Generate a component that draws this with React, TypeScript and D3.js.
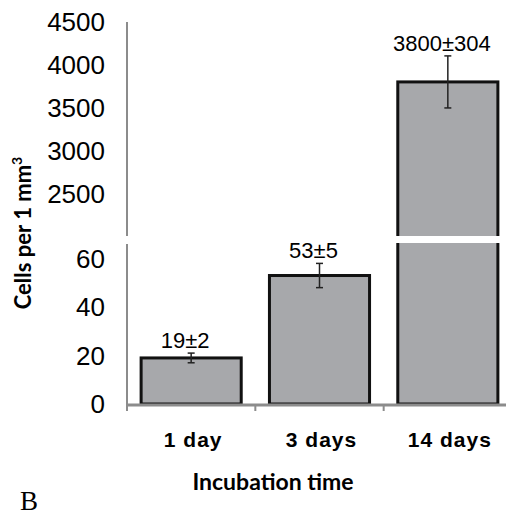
import React from 'react'
import * as d3 from 'd3'

const categories = ['1 day', '3 days', '14 days']
const means = [19, 53, 3800]
const errors = [2, 5, 304]
const valueLabels = ['19±2', '53±5', '3800±304']
const lowerTicks = [0, 20, 40, 60]
const upperTicks = [2500, 3000, 3500, 4000, 4500]

const W = 506
const H = 516
const axisX = 127
const baseY = 404
const breakLo = 236
const breakHi = 244

const App = () => {
  const x = d3.scaleBand().domain(categories).range([axisX, 512]).paddingInner(0.22).paddingOuter(0.11)
  const yLow = d3.scaleLinear().domain([0, 66]).range([baseY, breakHi])
  const yHigh = d3.scaleLinear().domain([2000, 4500]).range([breakLo, 22])
  const inLow = (v: number) => v <= 66
  const yOf = (v: number) => (inLow(v) ? yLow(v) : yHigh(v))
  const axisColor = '#8c8c8c'
  const bandEdges = [axisX, ...categories.slice(1).map(c => (x(c) as number) - x.step() * x.paddingInner() / 2)]

  return (
    <svg width={W} height={H} style={{ position: 'absolute', left: 0, top: 0 }}>
      <rect width={W} height={H} fill="#fff" />
      {/* y axis, two pieces */}
      <line x1={axisX} x2={axisX} y1={yHigh(4500)} y2={breakLo} stroke={axisColor} strokeWidth={2} />
      <line x1={axisX} x2={axisX} y1={breakHi} y2={baseY + 6} stroke={axisColor} strokeWidth={2} />
      {upperTicks.map(t => (
        <text key={t} x={105} y={yHigh(t)} dy="0.36em" textAnchor="end"
          fontFamily="Liberation Sans, Arial, sans-serif" fontSize={26}>{t}</text>
      ))}
      {lowerTicks.map(t => (
        <text key={t} x={105} y={yLow(t)} dy="0.36em" textAnchor="end"
          fontFamily="Liberation Sans, Arial, sans-serif" fontSize={26}>{t}</text>
      ))}
      {/* bars */}
      {categories.map((c, i) => {
        const bx = x(c) as number
        const top = yOf(means[i])
        const cx = bx + x.bandwidth() / 2
        return (
          <g key={c}>
            <rect x={bx} y={top} width={x.bandwidth()} height={baseY - top}
              fill="#a7a8ab" stroke="#111" strokeWidth={3} />
            {!inLow(means[i]) && (
              <rect x={bx - 3} y={breakLo} width={x.bandwidth() + 6} height={breakHi - breakLo - 1} fill="#fff" />
            )}
            <line x1={cx} x2={cx} y1={yOf(means[i] + errors[i])} y2={yOf(means[i] - errors[i])} stroke="#222" strokeWidth={1.5} />
            <line x1={cx - 3.5} x2={cx + 3.5} y1={yOf(means[i] + errors[i])} y2={yOf(means[i] + errors[i])} stroke="#222" strokeWidth={1.5} />
            <line x1={cx - 3.5} x2={cx + 3.5} y1={yOf(means[i] - errors[i])} y2={yOf(means[i] - errors[i])} stroke="#222" strokeWidth={1.5} />
            <text x={cx - 6} y={yOf(means[i] + errors[i]) - 5} textAnchor="middle"
              fontFamily="Liberation Sans, Arial, sans-serif" fontSize={22}>{valueLabels[i]}</text>
            <text x={cx + 2} y={447} textAnchor="middle" fontFamily="Liberation Sans, Arial, sans-serif"
              fontWeight="bold" fontSize={21} letterSpacing={1}>{c}</text>
          </g>
        )
      })}
      {/* x axis */}
      <line x1={axisX - 1} x2={W} y1={baseY + 1} y2={baseY + 1} stroke={axisColor} strokeWidth={3} />
      {bandEdges.map(e => (
        <line key={e} x1={e} x2={e} y1={baseY} y2={baseY + 7} stroke={axisColor} strokeWidth={2} />
      ))}
      <text x={273} y={490} textAnchor="middle" fontFamily="Lato, sans-serif" fontWeight="bold" fontSize={23}>Incubation time</text>
      <text transform={`translate(31,233) rotate(-90)`} textAnchor="middle" fontFamily="Lato, sans-serif"
        fontWeight="bold" fontSize={22}>Cells  per 1 mm<tspan dy={-9} fontSize={14}>3</tspan></text>
      <text x={20} y={510} fontFamily="Liberation Serif, Times New Roman, serif" fontSize={27}>B</text>
    </svg>
  )
}

export default App
